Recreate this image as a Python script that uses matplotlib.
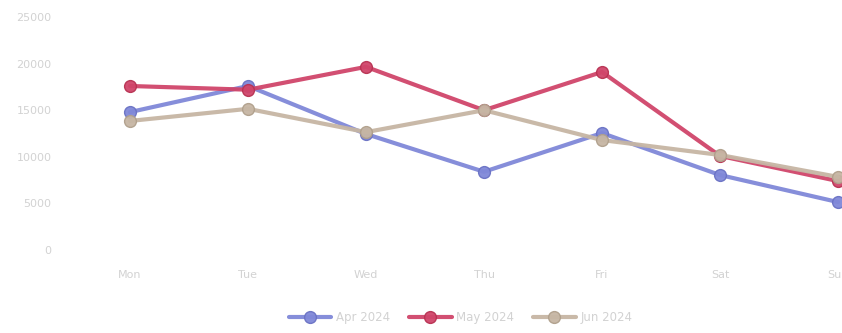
import matplotlib
matplotlib.use("Agg")
import matplotlib.pyplot as plt

days = ["Mon", "Tue", "Wed", "Thu", "Fri", "Sat", "Sun"]
apr_2024 = [14800, 17600, 12450, 8400, 12550, 8050, 5150]
may_2024 = [17600, 17200, 19650, 15000, 19100, 10100, 7400]
jun_2024 = [13850, 15150, 12650, 15000, 11800, 10200, 7850]
series_names = ["Apr 2024", "May 2024", "Jun 2024"]
y_ticks = [0, 5000, 10000, 15000, 20000, 25000]

colors = ["#8088d8", "#d0456a", "#c6b6a4"]
edge_colors = ["#6a72c4", "#b83252", "#b0a08c"]

fig = plt.figure(figsize=(8.42, 3.33), dpi=100)
ax = fig.add_axes([71 / 842, 0.249, 826 / 842, 0.70])

x = list(range(len(days)))
for vals, name, c, ec in zip([apr_2024, may_2024, jun_2024], series_names, colors, edge_colors):
    ax.plot(x, vals, color=c, lw=3.0, marker="o", ms=8.5, mfc=c, mec=ec, mew=1.0,
            label=name, solid_capstyle="round", alpha=0.95)

ax.set_xlim(-0.5, 6.5)
ax.set_ylim(0, 25000)
ax.set_xticks(x)
ax.set_xticklabels(days)
ax.set_yticks(y_ticks)
ax.set_yticklabels([str(v) for v in y_ticks])
for s in ax.spines.values():
    s.set_visible(False)
ax.tick_params(axis="both", length=0, colors="#d2d2d2", labelsize=8)
ax.tick_params(axis="y", pad=14)
ax.tick_params(axis="x", pad=14)

fig.legend(loc="lower center", bbox_to_anchor=(0.547, -0.005), ncol=3, frameon=False,
           fontsize=8.5, labelcolor="#d2d2d2", handlelength=3.6, columnspacing=1.6,
           handletextpad=0.4)

fig.savefig("out.png", dpi=100)
